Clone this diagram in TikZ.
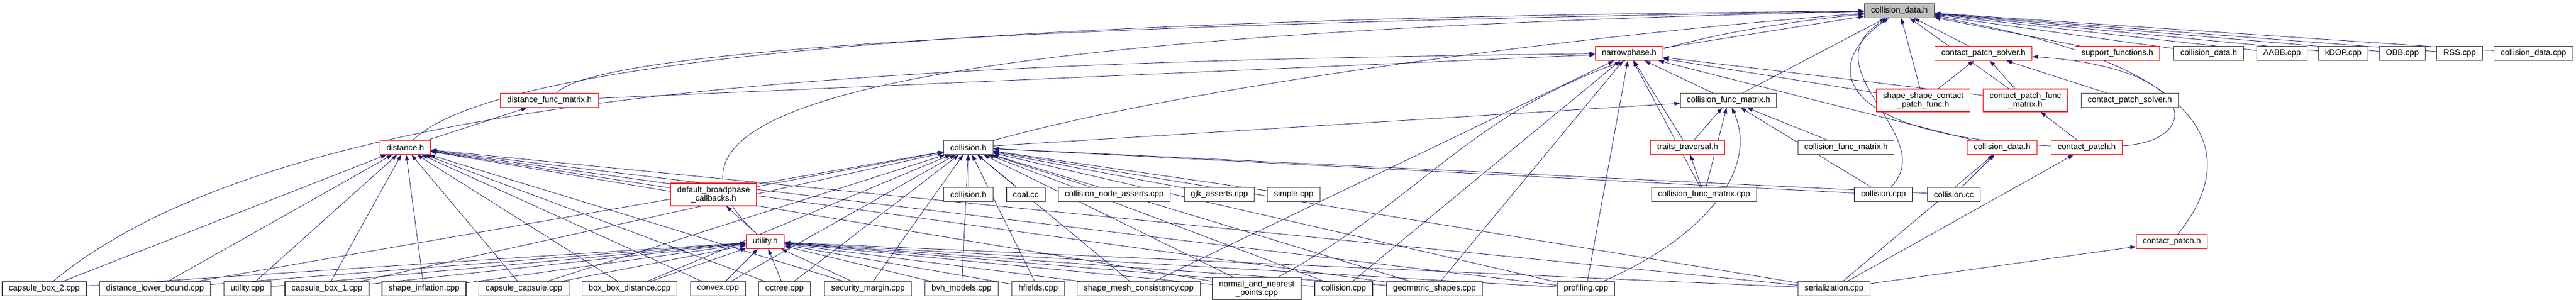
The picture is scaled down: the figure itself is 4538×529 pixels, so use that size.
\documentclass[tikz,border=0pt]{standalone}
\usepackage{fontspec}
\setmainfont{Liberation Sans}
\usetikzlibrary{arrows.meta}
\definecolor{incblue}{HTML}{191970}
\definecolor{cutred}{HTML}{FF0000}
\pgfdeclarelayer{edges}
\pgfsetlayers{edges,main}
\begin{document}
\begin{tikzpicture}[x=1pt,y=-1pt,
  file/.style={draw=black!75,line width=1.1pt,fill=white,font=\fontsize{14.5}{15}\selectfont,inner xsep=11.5pt,inner ysep=2pt,minimum height=25pt,align=center},
  cut/.style={file,draw=cutred},
  rootfile/.style={file,fill=black!25},
  inc/.style={draw=incblue,line width=0.8pt,-{Triangle[length=10pt,width=7pt]}}]
\useasboundingbox (0,0) rectangle (4538,529);

\node[rootfile] (cdh) at (3346,19) {collision\_data.h};

\node[cut] (np) at (2870,94) {narrowphase.h};
\node[cut] (cpsr) at (3494,94) {contact\_patch\_solver.h};
\node[cut] (sfh) at (3730,94) {support\_functions.h};
\node[file] (cdhb) at (3891,94) {collision\_data.h};
\node[file] (aabb) at (4020,94) {AABB.cpp};
\node[file] (kdop) at (4128,94) {kDOP.cpp};
\node[file] (obb) at (4232,94) {OBB.cpp};
\node[file] (rss) at (4333,94) {RSS.cpp};
\node[file] (cdcpp) at (4463,94) {collision\_data.cpp};

\node[cut] (dfm) at (968,177) {distance\_func\_matrix.h};
\node[file] (cfm) at (3045,177) {collision\_func\_matrix.h};
\node[cut,minimum height=40pt] (sscp) at (3388,177) {shape\_shape\_contact\\\_patch\_func.h};
\node[cut,minimum height=40pt] (cpfm) at (3568,177) {contact\_patch\_func\\\_matrix.h};
\node[file] (cpsb) at (3752,177) {contact\_patch\_solver.h};

\node[cut] (dist) at (714,260) {distance.h};
\node[file] (colh) at (1706,260) {collision.h};
\node[cut] (trav) at (2973,260) {traits\_traversal.h};
\node[file] (cfmb) at (3252,260) {collision\_func\_matrix.h};
\node[cut] (cdr) at (3527,260) {collision\_data.h};
\node[cut] (cph) at (3676,260) {contact\_patch.h};

\node[cut,minimum height=40pt] (dbc) at (1257,343) {default\_broadphase\\\_callbacks.h};
\node[file] (colh2) at (1706,343) {collision.h};
\node[file] (coal) at (1807,343) {coal.cc};
\node[file] (cna) at (1963,343) {collision\_node\_asserts.cpp};
\node[file] (gjk) at (2148,343) {gjk\_asserts.cpp};
\node[file] (simple) at (2279,343) {simple.cpp};
\node[file] (cfmcpp) at (3002,343) {collision\_func\_matrix.cpp};
\node[file] (colcpp) at (3318,343) {collision.cpp};
\node[file] (colcc) at (3442,343) {collision.cc};

\node[cut] (util) at (1348,426) {utility.h};
\node[cut] (cph2) at (3826,426) {contact\_patch.h};

\node[file] (cb2) at (78,509) {capsule\_box\_2.cpp};
\node[file] (dlb) at (273,509) {distance\_lower\_bound.cpp};
\node[file] (ucpp) at (436,509) {utility.cpp};
\node[file] (cb1) at (576,509) {capsule\_box\_1.cpp};
\node[file] (sinf) at (747,509) {shape\_inflation.cpp};
\node[file] (cc) at (923,509) {capsule\_capsule.cpp};
\node[file] (bbd) at (1109,509) {box\_box\_distance.cpp};
\node[file] (cvx) at (1265,509) {convex.cpp};
\node[file] (oct) at (1382,509) {octree.cpp};
\node[file] (sm) at (1529,509) {security\_margin.cpp};
\node[file] (bvh) at (1694,509) {bvh\_models.cpp};
\node[file] (hf) at (1829,509) {hfields.cpp};
\node[file] (smc) at (2006,509) {shape\_mesh\_consistency.cpp};
\node[file,minimum height=40pt] (nnp) at (2214,509) {normal\_and\_nearest\\\_points.cpp};
\node[file] (colcpp2) at (2367,509) {collision.cpp};
\node[file] (gs) at (2527,509) {geometric\_shapes.cpp};
\node[file] (prof) at (2794,509) {profiling.cpp};
\node[file] (ser) at (3231,509) {serialization.cpp};

\begin{pgfonlayer}{edges}
\foreach \c in {np,cpsr,sfh,cdhb,aabb,kdop,obb,rss,cdcpp,cfm,sscp,cpfm}
  \draw[inc] (\c) -- (cdh);
\foreach \c/\p in {dfm/np,cfm/np,sscp/cpsr,sscp/np,cpfm/cpsr,cpfm/np,cpsb/cpsr,
  dist/dfm,colh/cfm,trav/np,trav/cfm,cfmb/cfm,cdr/np,cph/cpfm,
  dbc/dist,dbc/colh,colh2/colh,coal/colh,cna/colh,gjk/colh,simple/colh,
  cfmcpp/trav,cfmcpp/np,cfmcpp/cfm,colcpp/cfm,colcpp/colh,colcc/cdr,colcc/colh,util/dbc,
  smc/np,colcpp2/np,gs/np,prof/np,ser/cdr,ser/cph,ser/cph2}
  \draw[inc] (\c) -- (\p);
\foreach \c in {cb2,dlb,ucpp,cb1,sinf,cc,bbd,cvx,oct,sm,bvh,hf,smc,nnp,colcpp2,gs,prof,ser}
  \draw[inc] (\c) -- (util);
\foreach \c in {cb2,dlb,ucpp,cb1,sinf,cc,bbd,cvx,oct,sm,nnp,gs,prof,ser}
  \draw[inc] (\c) -- (dist);
\foreach \c in {dlb,cb1,cc,bbd,cvx,oct,sm,bvh,hf,smc,nnp,colcpp2,gs,prof,ser}
  \draw[inc] (\c) -- (colh);

\draw[inc] (dfm) .. controls (1060,80) and (2000,40) .. (cdh);
\draw[inc] (dist) .. controls (900,80) and (2000,30) .. (cdh);
\draw[inc] (colh) .. controls (2100,150) and (2800,60) .. (cdh);
\draw[inc] (util) .. controls (1100,200) and (1500,60) .. (cdh);
\draw[inc] (cb2) .. controls (500,160) and (1500,110) .. (np);
\draw[inc] (cph) .. controls (3880,250) and (3880,120) .. (cpsr);
\draw[inc] (cph) .. controls (3240,240) and (3200,120) .. (cdh);
\draw[inc] (colcpp) .. controls (3420,240) and (3180,120) .. (cdh);
\draw[inc] (cph2) .. controls (3960,260) and (3880,110) .. (cdh);
\draw[inc] (nnp) .. controls (2600,300) and (2620,90) .. (cdh);
\draw[inc] (prof) .. controls (3000,420) and (3100,300) .. (cfm);
\end{pgfonlayer}
\end{tikzpicture}
\end{document}
